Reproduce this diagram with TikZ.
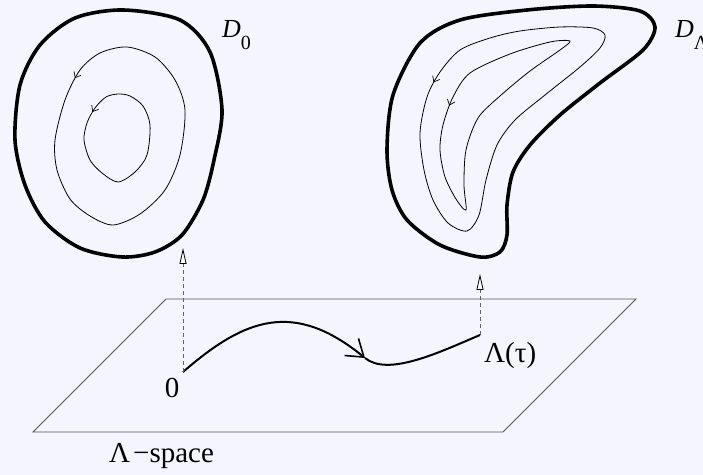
\documentclass[tikz,border=0pt]{standalone}
\usepackage{fontspec}
\setmainfont{Liberation Serif}
\usetikzlibrary{
    arrows.meta,
    positioning,
    decorations.markings
}
\definecolor{PaperBg}{RGB}{245,245,255}
\definecolor{PlaneGray}{RGB}{85,85,85}
\definecolor{DashGray}{RGB}{100,100,100}
\tikzset{
  rim/.style      = {line width=3.6bp, line join=round},
  orbit/.style    = {line width=0.8bp},
  orbitarr/.style = {postaction={decorate},
                     decoration={markings,
                       mark=at position #1 with {\arrow{Straight Barb[length=5bp,width=8bp,line width=0.7bp]}}}},
  plane/.style    = {draw=PlaneGray, line width=0.9bp, line join=miter},
  proj/.style     = {draw=DashGray, line width=1bp, dash pattern=on 4bp off 3bp,
                     -{Triangle[length=16bp,width=7bp,fill=white,color=black,line width=0.8bp]}},
  route/.style    = {line width=2bp},
  dlbl/.style     = {inner sep=0pt, font=\fontsize{26bp}{30bp}\selectfont},
  lbl/.style      = {inner sep=0pt, font=\fontsize{29bp}{33bp}\selectfont}
}
\newcommand{\sublow}[1]{\raisebox{-12bp}{\fontsize{20bp}{24bp}\selectfont #1}}

\begin{document}
\begin{tikzpicture}[x=1bp, y=-1bp]
\fill[PaperBg] (0,0) rectangle (703,475);
\useasboundingbox (0,0) rectangle (703,475);

% unperturbed domain D_0
\draw[rim] plot[smooth cycle] coordinates {
  (123,10) (180,20) (210,52) (222,110) (214,160) (203,200) (182,235)
  (155,252) (122,257) (80,248) (45,222) (25,185) (15,140) (20,85)
  (40,45) (75,18)};
\draw[orbit, orbitarr=0.02] plot[smooth cycle] coordinates {
  (100,53) (80,70) (65,100) (55,140) (57,170) (70,199) (90,216) (113,225)
  (140,214) (165,190) (180,155) (185,110) (175,80) (155,57) (127,47)};
\draw[orbit, orbitarr=0.02] plot[smooth cycle] coordinates {
  (106,97) (95,108) (87,123) (84,140) (90,160) (102,173) (118,182)
  (135,172) (147,155) (150,125) (143,106) (130,96) (118,94)};

% deformed domain D_Lambda
\draw[rim] plot[smooth cycle] coordinates {
  (655,27) (640,11) (593,6) (527,10) (460,20) (420,43) (393,95)
  (387,150) (392,190) (407,220) (440,245) (480,257) (500,252)
  (507,235) (507,205) (513,172) (530,145) (560,115) (600,83) (643,50)};
\draw[orbit, orbitarr=0.02] plot[smooth cycle] coordinates {
  (460,50) (440,72) (427,97) (420,133) (424,170) (433,200) (448,223) (467,231)
  (479,215) (486,180) (497,145) (515,120) (545,95) (580,67)
  (600,48) (605,35) (593,28) (560,27) (520,31) (490,38)};
\draw[orbit, orbitarr=0.02] plot[smooth cycle] coordinates {
  (470,73) (453,97) (443,125) (440,150) (445,177) (456,199) (466,210)
  (464,185) (466,150) (478,118) (500,96) (530,71) (560,50) (570,41)
  (550,42) (510,54)};

% parameter plane
\coordinate (pnw) at (166,299);
\coordinate (pne) at (636,299);
\coordinate (pse) at (503,432);
\coordinate (psw) at (33,432);
\draw[plane] (pnw) -- (pne) -- (pse) -- (psw) -- cycle;

\coordinate (orig) at (183,372);
\coordinate (bend) at (365,358);
\coordinate (tau) at (480,335);
\coordinate (dzerotip) at (183,248);
\coordinate (dlamtip) at (480,274);

% path Lambda(t) in the plane
\draw[route, -{Straight Barb[length=16bp,width=22bp,line width=1.6bp]}]
  (orig) .. controls (245,318) and (294,300) .. (bend);
\draw[route] (bend) .. controls (388,377) and (440,352) .. (tau);

% projections
\draw[proj] (orig) -- (dzerotip);
\draw[proj] (tau) -- (dlamtip);

% labels
\node[dlbl, anchor=base west] (dzero) at (222,38) {\textit{D}\sublow{0}};
\node[dlbl, anchor=base west] (dlam) at (675,38) {\textit{D}\sublow{Λ}};
\node[lbl] (zero) at (172,388) {0};
\node[lbl, anchor=base west] (taulbl) at (484,362) {Λ(τ)};
\node[lbl, anchor=base west] (spacelbl) at (109,462) {Λ\hspace{3bp}−space};
\end{tikzpicture}
\end{document}
